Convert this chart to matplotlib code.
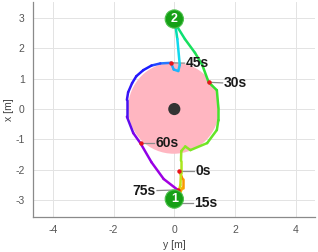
import matplotlib
matplotlib.use("Agg")
import matplotlib.pyplot as plt
import numpy as np
from matplotlib.collections import LineCollection
from matplotlib.patches import Circle
from matplotlib.colors import Normalize, LinearSegmentedColormap

plt.rcParams['font.family'] = ['Liberation Sans', 'DejaVu Sans']

# trajectory (horizontal axis = y [m], vertical axis = x [m]) and time [s]
path_y = [0.17, 0.27, 0.27, 0.15, 0.03, 0.12, 0.20, 0.22, 0.22, 0.23, 0.36, 0.53, 1.08,
          1.40, 1.45, 1.45, 1.40, 1.13, 0.92, 0.68, 0.35, 0.07, 0.00, 0.10, 0.18,
          0.13, -0.02, -0.11, -0.46, -0.75, -1.02, -1.25, -1.39, -1.52, -1.56, -1.56,
          -1.35, -1.11, -0.75, -0.35, 0.115]
path_x = [-2.04, -2.30, -2.58, -2.85, -3.00, -2.80, -2.50, -2.10, -1.70, -1.38, -1.23,
          -1.35, -1.12, -0.69, -0.36, 0.05, 0.62, 0.88, 1.45, 1.85, 2.30, 2.75, 3.00,
          2.30, 1.45, 1.25, 1.30, 1.52, 1.50, 1.43, 1.28, 1.08, 0.85, 0.55, 0.30, -0.25,
          -0.79, -1.13, -1.75, -2.30, -2.66]
path_t = [0, 3, 7, 11, 14, 16, 17.5, 19, 20.5, 21.7, 22.3, 23.0, 25.0,
          26.5, 27.5, 28.2, 29.2, 30, 31.5, 32.8, 34.5, 36.3, 37.5, 39.5, 42,
          43, 44, 45, 46.5, 47.5, 48.5, 49.5, 50.5, 52, 53, 55.5, 58, 60,
          65, 70, 75]

# time marks
mark_labels = ['0s', '15s', '30s', '45s', '60s', '75s']
mark_y = [0.17, 0.03, 1.13, -0.11, -1.11, 0.115]
mark_x = [-2.04, -3.09, 0.88, 1.52, -1.13, -2.66]
text_y = [0.69, 0.66, 1.64, 0.39, -0.62, -0.62]
text_x = [-2.04, -3.09, 0.86, 1.51, -1.13, -2.68]
text_ha = ['left', 'left', 'left', 'left', 'left', 'right']

# waypoints
wp_labels = ['1', '2']
wp_y = [0.0, 0.0]
wp_x = [-2.96, 2.96]

# colour anchors along time
cmap_t = [0, 15, 20, 30, 37, 41, 45, 48, 55, 60, 75]
cmap_c = ['#ff7a00', '#f0d000', '#a8e820', '#30e030', '#00e08a', '#10d8f0',
          '#2aa0ff', '#1a1aff', '#4a10f0', '#8c00e8', '#a800e0']

fig = plt.figure(figsize=(3.18, 2.52), dpi=100)
ax = fig.add_axes([33/318, 35/252, (315-33)/318, (250-35)/252])
ax.set_xlim(-4.65, 4.63)
ax.set_ylim(-3.55, 3.52)

ax.grid(True, color='#e3e3e3', linewidth=0.7)
ax.set_axisbelow(True)
for s in ['top', 'right']:
    ax.spines[s].set_visible(False)
for s in ['left', 'bottom']:
    ax.spines[s].set_color('#8a8a8a')
    ax.spines[s].set_linewidth(0.9)
ax.tick_params(length=0, labelsize=7.5, colors='#555555', pad=6)
ax.set_xticks([-4, -2, 0, 2, 4])
ax.set_yticks([-3, -2, -1, 0, 1, 2, 3])
ax.set_xticklabels(['-4', '-2', '0', '2', '4'])
ax.set_yticklabels(['-3', '-2', '-1', '0', '1', '2', '3'])
ax.set_xlabel('y [m]', fontsize=7.5, color='#444444', labelpad=3)
ax.set_ylabel('x [m]', fontsize=7.5, color='#444444', labelpad=1)

# obstacle
ax.add_patch(Circle((-0.02, 0.03), 1.5, facecolor='#ffb6c1', edgecolor='none', zorder=1))
ax.add_patch(Circle((0, 0), 0.2, facecolor='#333333', edgecolor='none', zorder=2))

# trajectory
cmap = LinearSegmentedColormap.from_list(
    'traj', [((t - cmap_t[0]) / (cmap_t[-1] - cmap_t[0]), c) for t, c in zip(cmap_t, cmap_c)])
pts = np.column_stack([path_y, path_x])
segs = np.stack([pts[:-1], pts[1:]], axis=1)
tt = np.array(path_t, dtype=float)
tmid = 0.5 * (tt[:-1] + tt[1:])
lc = LineCollection(segs, cmap=cmap, norm=Normalize(cmap_t[0], cmap_t[-1]), linewidths=1.8,
                    capstyle='round', joinstyle='round', zorder=3)
lc.set_array(tmid)
ax.add_collection(lc)

# time marks
for lab, my, mx, ty, tx, ha in zip(mark_labels, mark_y, mark_x, text_y, text_x, text_ha):
    ax.plot([my, ty - 0.05 if ha == 'left' else ty + 0.05], [mx, tx],
            color='#8c8c8c', lw=0.9, zorder=2.5)
    ax.plot(my, mx, 'o', color='#e8141b', ms=3.2, mec='none', zorder=4)
    ax.text(ty, tx, lab, ha=ha, va='center', fontsize=10, fontweight='bold',
            color='#1a1a1a', zorder=5)

# waypoints
for lab, wy, wx in zip(wp_labels, wp_y, wp_x):
    ax.add_patch(Circle((wy, wx), 0.3, facecolor='#16a016', edgecolor='#4cc04c',
                        linewidth=0.8, zorder=6))
    ax.text(wy, wx, lab, ha='center', va='center', fontsize=9, fontweight='bold',
            color='white', zorder=7)

fig.savefig('out.png', dpi=100)
